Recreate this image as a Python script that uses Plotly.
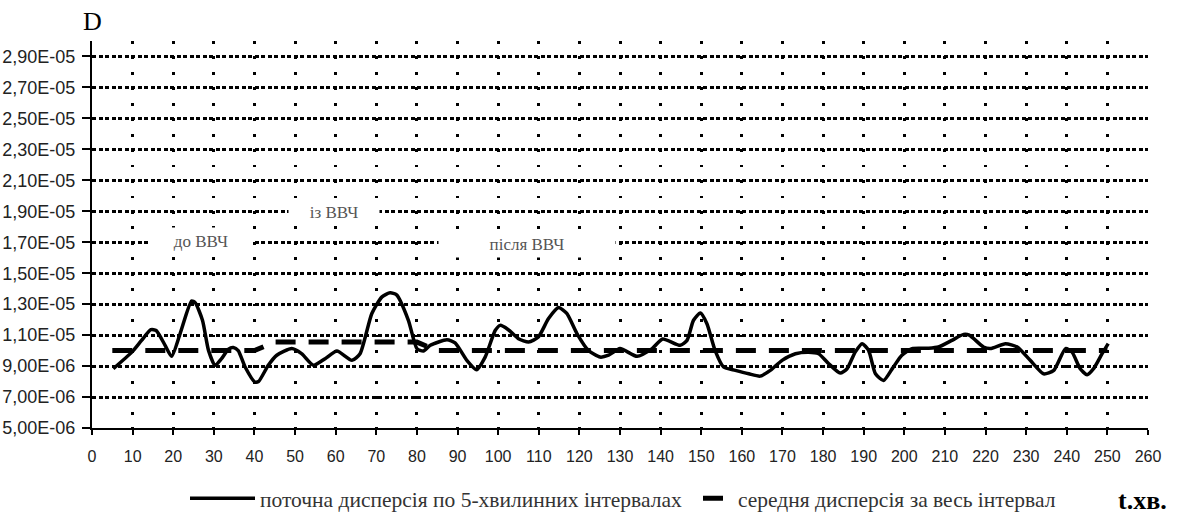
import plotly.graph_objects as go

# ---- data ----
t_cur = [5.25, 9.8, 12.2, 14.5, 15.8, 18, 19.6, 21.7, 24.5, 25.4, 27.2, 28.7, 30.3, 31.9, 33.6, 34.8, 36,
         37.7, 40.1, 41, 43.4, 45.5, 49.2, 51.6, 54.5, 57.4, 60.3, 64, 66, 68.9, 71.4, 73.4, 75, 77.9,
         80, 81.6, 83.3, 87.4, 89.4, 92.3, 94.7, 96.8, 99.3, 100.5, 102.5, 105, 107.5, 109.9, 112.4,
         114.9, 116.9, 119.4, 122.2, 125.1, 127.2, 130, 134.2, 137.9, 140.5, 144.8, 146.5, 148.1,
         149.8, 151.4, 153.4, 155.5, 158.4, 161.7, 164.5, 167, 169.9, 173.2, 176.4, 178.9, 181.4,
         184.2, 185.9, 187.9, 189.6, 191.2, 192.9, 194.9, 197.2, 199.4, 201.9, 206, 208.4, 211.7,
         214.6, 216, 219.5, 221.2, 224.9, 227.8, 231, 234.3, 236.8, 239.7, 241.3, 243.3, 245, 246.6,
         248.7, 250.2]
d_cur_e6 = [8.83, 9.9, 10.66, 11.35, 11.3, 10.34, 9.63, 11.1, 13.2, 13.1, 11.96, 10.0, 9.05, 9.48, 10.1,
            10.2, 10.0, 8.94, 7.97, 8.0, 9.05, 9.7, 10.13, 9.8, 9.05, 9.48, 9.97, 9.37, 9.8, 12.4, 13.47,
            13.73, 13.6, 11.96, 10.13, 9.97, 10.34, 10.7, 10.5, 9.37, 8.77, 9.58, 11.31, 11.63, 11.35,
            10.77, 10.55, 10.88, 12.07, 12.78, 12.4, 11.1, 10.02, 9.58, 9.7, 10.13, 9.63, 10.13, 10.75,
            10.34, 10.66, 11.96, 12.43, 11.74, 10.02, 8.94, 8.72, 8.5, 8.35, 8.72, 9.37, 9.8, 9.9, 9.8,
            9.15, 8.55, 8.83, 9.9, 10.45, 10.02, 8.5, 8.07, 8.9, 9.7, 10.13, 10.15, 10.23, 10.66, 11.05,
            11.0, 10.23, 10.13, 10.45, 10.23, 9.37, 8.5, 8.72, 10.13, 9.9, 8.83, 8.44, 8.83, 9.8, 10.45]

t_mean = [5, 40, 45, 80, 85, 250]
d_mean_e6 = [10.0, 10.0, 10.55, 10.55, 10.0, 10.0]

y_tickvals = [5e-6, 7e-6, 9e-6, 1.1e-5, 1.3e-5, 1.5e-5, 1.7e-5, 1.9e-5, 2.1e-5, 2.3e-5, 2.5e-5, 2.7e-5, 2.9e-5]
y_ticktext = ["5,00E-06", "7,00E-06", "9,00E-06", "1,10E-05", "1,30E-05", "1,50E-05", "1,70E-05",
              "1,90E-05", "2,10E-05", "2,30E-05", "2,50E-05", "2,70E-05", "2,90E-05"]
x_tickvals = list(range(0, 261, 10))

name_cur = "поточна дисперсія по 5-хвилинних інтервалах"
name_mean = "середня дисперсія за весь інтервал"

stage_labels = ["до ВВЧ", "із ВВЧ", "після ВВЧ"]
stage_t = [26.8, 59.6, 107.1]
stage_d = [1.707e-5, 1.895e-5, 1.688e-5]
stage_w = [100, 88, 174]

SERIF = "Liberation Serif, Times New Roman, serif"
SANS = "Liberation Sans, Arial, sans-serif"

d_cur = [v * 1e-6 for v in d_cur_e6]
d_mean = [v * 1e-6 for v in d_mean_e6]

fig = go.Figure()
fig.add_trace(go.Scatter(x=t_cur, y=d_cur, mode="lines", name=name_cur, legend="legend",
                         line=dict(color="black", width=3.5, shape="spline", smoothing=0.6)))
fig.add_trace(go.Scatter(x=t_mean, y=d_mean, mode="lines", name=name_mean, legend="legend2",
                         line=dict(color="black", width=5, dash="20px,13px")))

for lab, tx, dy, w in zip(stage_labels, stage_t, stage_d, stage_w):
    fig.add_annotation(x=tx, y=dy, xref="x", yref="y", text=lab, showarrow=False,
                       width=w, height=24, bgcolor="white",
                       font=dict(family=SERIF, size=17, color="#555555"))

fig.add_annotation(x=0, y=1.0, xref="paper", yref="paper", xanchor="center", yanchor="middle",
                   yshift=20, text="D", showarrow=False,
                   font=dict(family=SERIF, size=26, color="black"))
fig.add_annotation(x=0.995, y=-0.188, xref="paper", yref="paper", yanchor="middle", xanchor="center",
                   text="<b>t.хв.</b>", showarrow=False,
                   font=dict(family=SERIF, size=26, color="black"))

leg_common = dict(orientation="h", xref="container", yref="container", xanchor="left",
                  y=0.038, yanchor="middle", bgcolor="rgba(0,0,0,0)",
                  font=dict(family=SERIF, size=21.5, color="#333333"))

fig.update_layout(
    width=1182, height=518,
    margin=dict(l=92, r=34, t=41, b=90, autoexpand=False),
    paper_bgcolor="white", plot_bgcolor="white",
    showlegend=True,
    legend=dict(x=(195 - 10) / 1182, itemwidth=65, **leg_common),
    legend2=dict(x=(708 - 10) / 1182, itemwidth=30, **leg_common),
    font=dict(family=SANS, color="#222222"),
)

fig.update_xaxes(range=[0, 260], tickvals=x_tickvals, showline=True, linecolor="black", linewidth=2,
                 ticks="outside", ticklen=5, tickwidth=1.5, tickcolor="black",
                 tickfont=dict(family=SANS, size=16, color="#222222"),
                 ticklabelstandoff=8, automargin=False,
                 showgrid=True, gridcolor="black", gridwidth=2.8, griddash="2.8px,12.65px",
                 zeroline=False)
fig.update_yaxes(range=[5e-6, 3.0e-5], tickvals=y_tickvals, ticktext=y_ticktext, showline=True,
                 linecolor="black", linewidth=2, ticks="outside", ticklen=8, tickwidth=1.5,
                 tickcolor="black", automargin=False, ticklabelstandoff=3,
                 tickfont=dict(family=SANS, size=18, color="#222222"),
                 showgrid=True, gridcolor="black", gridwidth=3, griddash="4px,2.5px",
                 zeroline=False)

fig.write_html("out.html", config={"displayModeBar": False},
               post_script="document.body.style.margin='0';document.body.style.padding='0';")
